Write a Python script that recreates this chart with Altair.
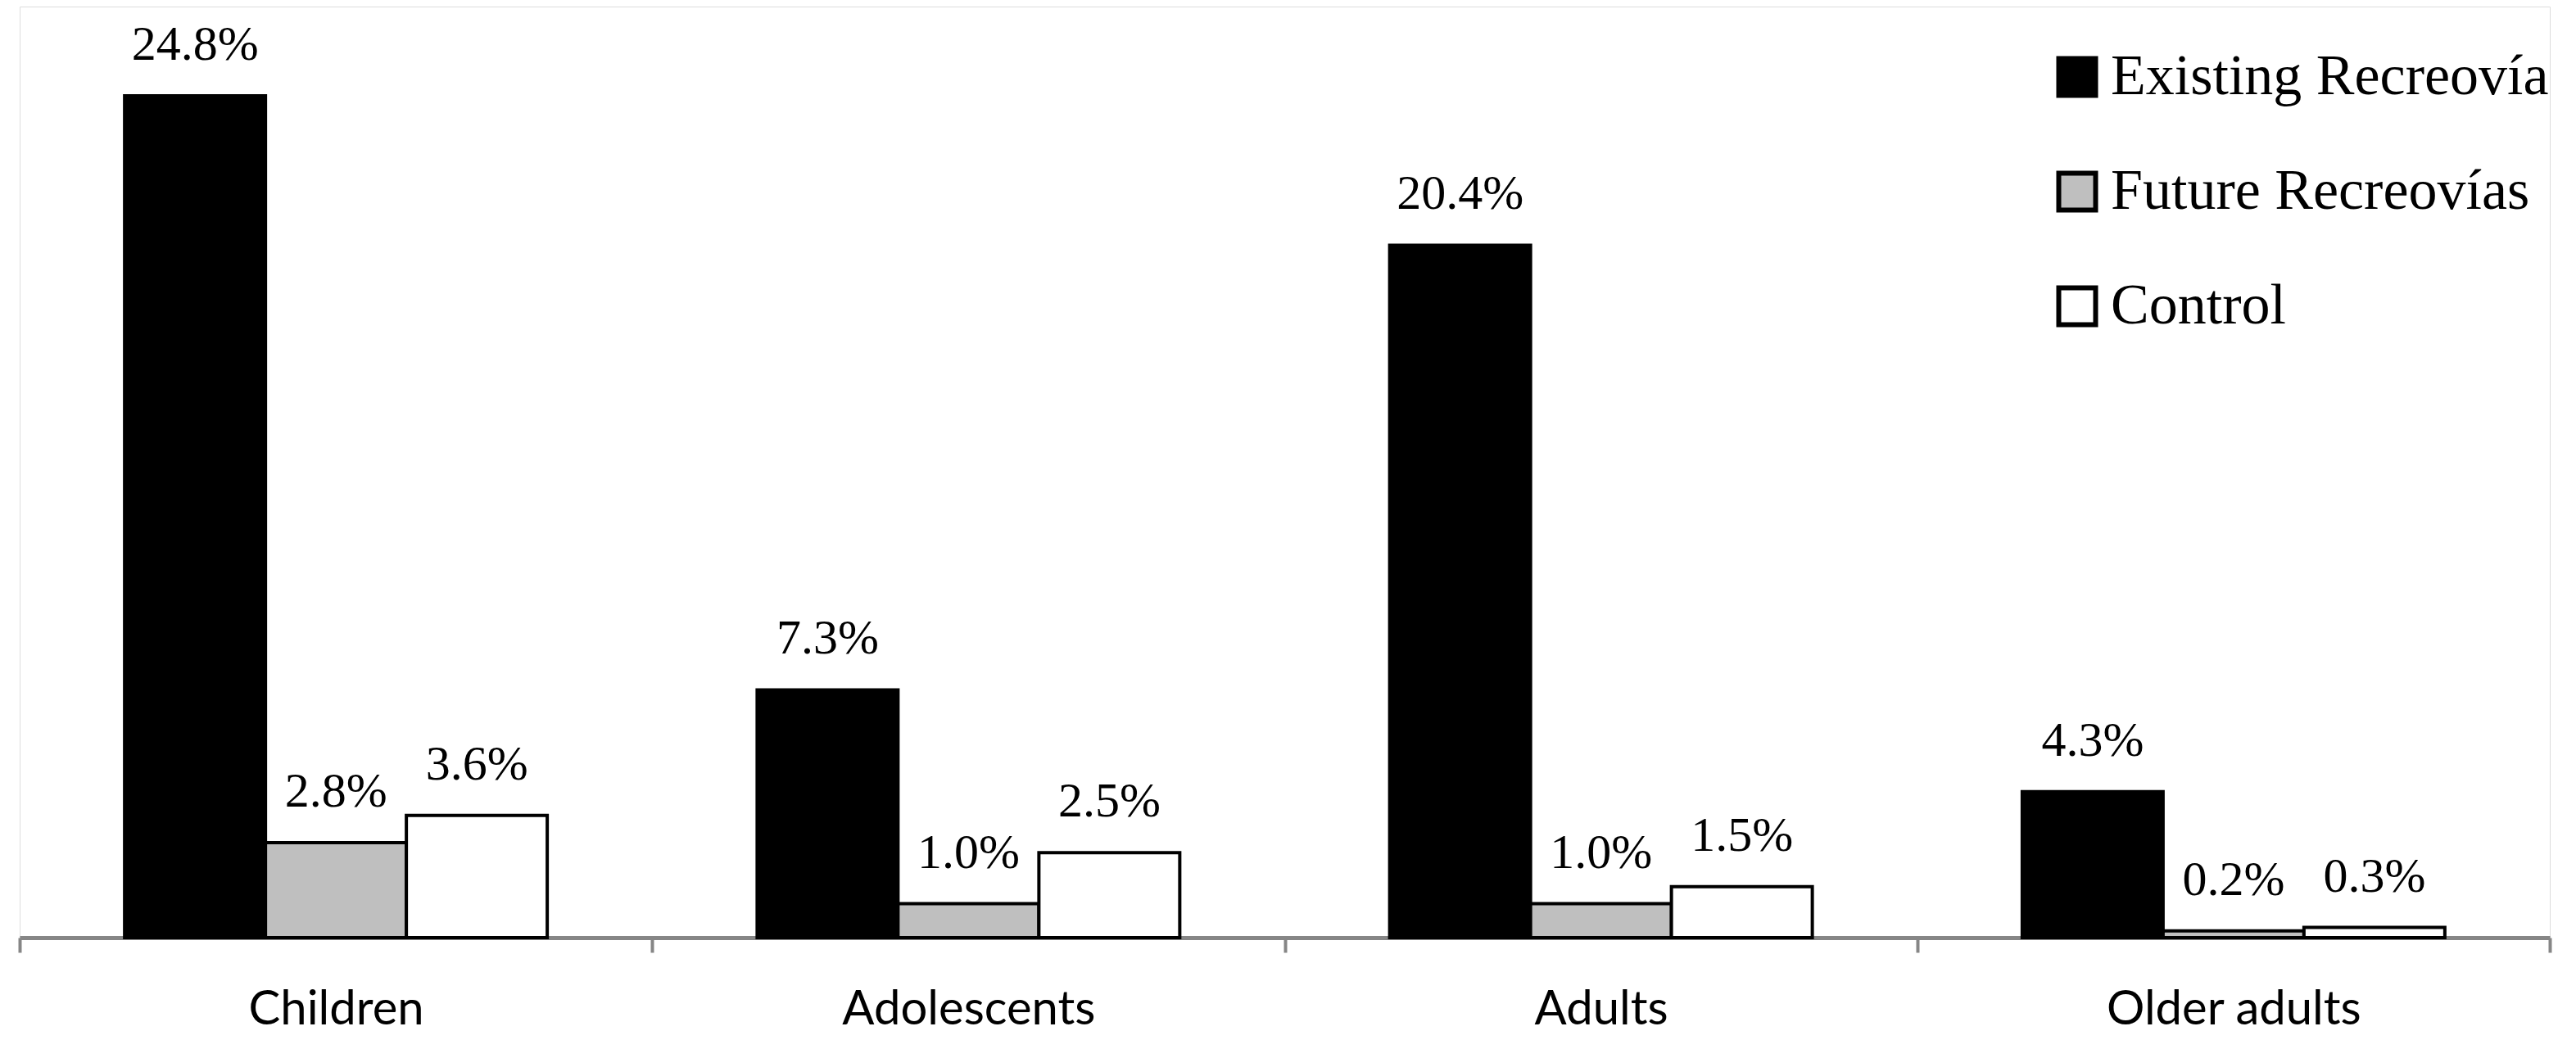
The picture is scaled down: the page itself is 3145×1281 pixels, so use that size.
import altair as alt
import pandas as pd

categories = ["Children", "Adolescents", "Adults", "Older adults"]
series = ["Existing Recreovía", "Future Recreovías", "Control"]
existing = [24.8, 7.3, 20.4, 4.3]
future = [2.8, 1.0, 1.0, 0.2]
control = [3.6, 2.5, 1.5, 0.3]
colors = ["#000000", "#BFBFBF", "#FFFFFF"]

rows = []
for s, vals in zip(series, [existing, future, control]):
    for c, v in zip(categories, vals):
        rows.append({"category": c, "series": s, "value": v})
df = pd.DataFrame(rows)

x = alt.X("category:N", sort=categories,
          scale=alt.Scale(paddingInner=0, paddingOuter=0),
          axis=alt.Axis(title=None, labelAngle=0, labelFont="Lato", labelFontSize=58,
                        labelColor="#000000", labelBaseline="alphabetic", labelPadding=87,
                        labelLimit=1000,
                        domainColor="#868686", domainWidth=5, tickColor="#868686",
                        tickWidth=4, tickSize=18, tickBand="extent", grid=False))
xo = alt.XOffset("series:N", sort=series,
                 scale=alt.Scale(domain=series, paddingInner=0, paddingOuter=0.745))
y = alt.Y("value:Q", scale=alt.Scale(domain=[0, 27.43], nice=False, zero=True),
          axis=None)

bars = alt.Chart(df).mark_bar(stroke="#000000", strokeWidth=4).encode(
    x=x, xOffset=xo, y=y,
    fill=alt.Fill("series:N", sort=series,
                  scale=alt.Scale(domain=series, range=colors),
                  legend=alt.Legend(title=None, orient="none", legendX=2477, legendY=51,
                                    symbolType="square", symbolSize=2025,
                                    symbolStrokeColor="#000000", symbolStrokeWidth=6,
                                    symbolOpacity=1, symbolFillColor="#000000",
                                    labelFont="Liberation Serif", labelFontSize=70,
                                    labelColor="#000000", labelOffset=6,
                                    labelLimit=1000, rowPadding=70, padding=0)),
)

labels = alt.Chart(df).transform_calculate(
    label="format(datum.value, '.1f') + '%'"
).mark_text(font="Liberation Serif", fontSize=60, color="#000000",
            baseline="alphabetic", dy=-44).encode(
    x=x, xOffset=xo, y=y, text="label:N"
)

chart = alt.layer(bars, labels).properties(
    width=3089, height=1137,
    autosize=alt.AutoSizeParams(type="none"),
    padding={"left": 16, "top": 0, "right": 24, "bottom": 130},
).configure_view(stroke=None).configure(background="#FFFFFF")

chart.save("out.html", embed_options={"renderer": "svg", "actions": False})
